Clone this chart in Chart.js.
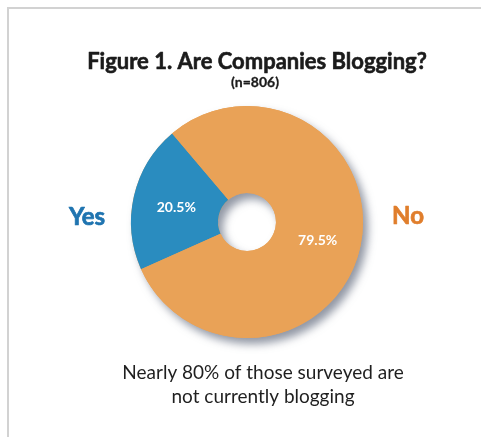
<!DOCTYPE html>
<html>
<head>
<meta charset="utf-8">
<script src="https://cdn.jsdelivr.net/npm/chart.js@4/dist/chart.umd.min.js"></script>
<style>
  html, body { margin: 0; padding: 0; background: #fff; }
  #wrap { position: absolute; left: 0; top: 0; width: 481px; height: 437px; }
  #frame { position: absolute; left: 7px; top: 7px; width: 480px; height: 440px;
           border-left: 2px solid #d2d2d2; border-top: 2px solid #d2d2d2; }
  canvas { position: absolute; left: 0; top: 0; }
</style>
</head>
<body>
<div id="wrap">
  <div id="frame"></div>
  <canvas id="c" width="481" height="437"></canvas>
</div>
<script>
const categories = ['Yes', 'No'];
const values = [20.5, 79.5];
const valueLabels = ['20.5%', '79.5%'];
const titleText = 'Figure 1. Are Companies Blogging?';
const subtitleText = '(n=806)';
const noteLines = ['Nearly 80% of those surveyed are', 'not currently blogging'];

const sliceColors = ['#2a8cbf', '#e9a257'];
const nameColors = ['#1f74b0', '#e07e2c'];

const shadowPlugin = {
  id: 'ringShadow',
  beforeDatasetsDraw(chart) {
    const arc = chart.getDatasetMeta(0).data[0];
    if (!arc) return;
    const { x, y, outerRadius, innerRadius } = arc.getProps(['x','y','outerRadius','innerRadius'], true);
    const ctx = chart.ctx;
    ctx.save();
    ctx.shadowColor = 'rgba(110,118,135,0.75)';
    ctx.shadowBlur = 9;
    ctx.shadowOffsetX = 5;
    ctx.shadowOffsetY = 6;
    ctx.beginPath();
    ctx.arc(x, y, outerRadius, 0, Math.PI * 2);
    ctx.arc(x, y, innerRadius, 0, Math.PI * 2, true);
    ctx.fillStyle = sliceColors[1];
    ctx.fill();
    ctx.restore();
  }
};

function boldText(ctx, t, x, y, w) {
  ctx.fillText(t, x, y);
  ctx.lineWidth = w;
  ctx.strokeStyle = ctx.fillStyle;
  ctx.strokeText(t, x, y);
}

const textPlugin = {
  id: 'texts',
  afterDraw(chart) {
    const ctx = chart.ctx;
    const meta = chart.getDatasetMeta(0);
    const a0 = meta.data[0];
    const cx = a0.x, cy = a0.y;
    ctx.save();
    ctx.textAlign = 'center';
    ctx.textBaseline = 'middle';
    ctx.lineJoin = 'round';
    // title
    ctx.fillStyle = '#1b1b1b';
    ctx.font = 'bold 22px Lato';
    boldText(ctx, titleText, cx + 10, 62, 0.6);
    ctx.font = 'bold 14px Lato';
    boldText(ctx, subtitleText, cx + 8, 82, 0.3);
    // slice values
    ctx.fillStyle = '#ffffff';
    ctx.font = 'bold 14px Lato';
    meta.data.forEach((arc, i) => {
      const p = arc.tooltipPosition();
      ctx.fillText(valueLabels[i], p.x, p.y + 2);
    });
    // category names
    ctx.font = 'bold 24px Lato';
    ctx.fillStyle = nameColors[0];
    boldText(ctx, categories[0], cx - 160, cy - 5, 0.7);
    ctx.fillStyle = nameColors[1];
    boldText(ctx, categories[1], cx + 161, cy - 6, 0.7);
    // note
    ctx.fillStyle = '#1f1f1f';
    ctx.font = '19px Lato';
    noteLines.forEach((t, i) => ctx.fillText(t, cx + 16, 373 + i * 24));
    ctx.restore();
  }
};

new Chart(document.getElementById('c'), {
  type: 'doughnut',
  data: {
    labels: categories,
    datasets: [{
      data: values,
      backgroundColor: sliceColors,
      borderWidth: 0,
      hoverOffset: 0
    }]
  },
  options: {
    responsive: false,
    animation: false,
    rotation: 246,
    cutout: '25%',
    layout: { padding: { left: 131, right: 118, top: 106, bottom: 99 } },
    plugins: {
      legend: { display: false },
      tooltip: { enabled: false },
      title: { display: false }
    }
  },
  plugins: [shadowPlugin, textPlugin]
});
</script>
</body>
</html>
